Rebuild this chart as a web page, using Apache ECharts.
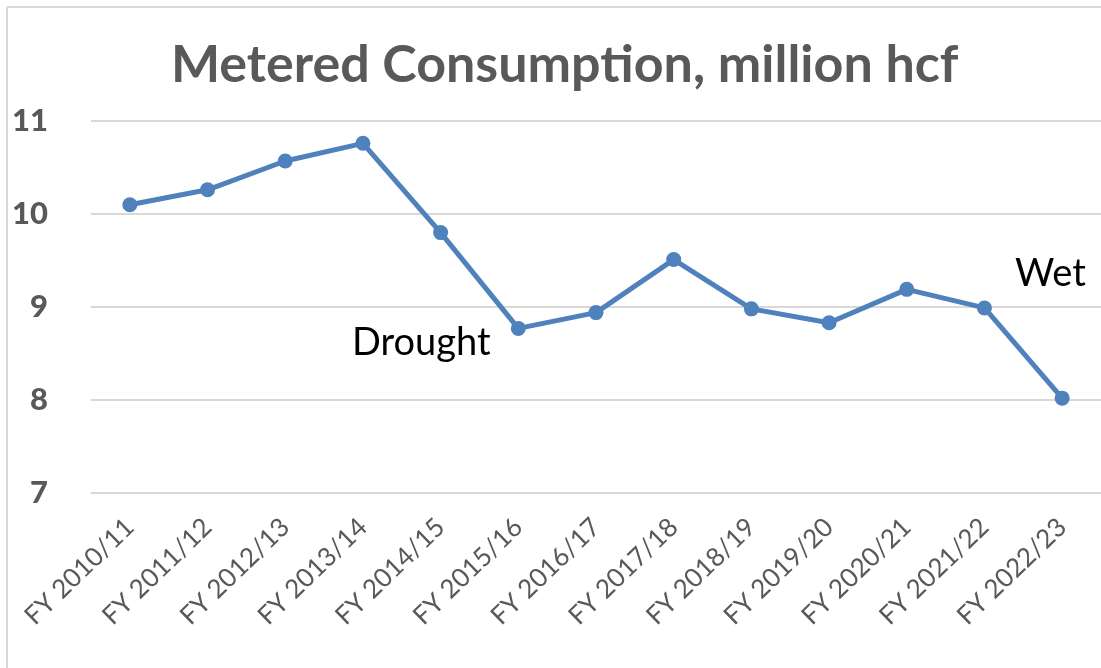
<!DOCTYPE html>
<html>
<head>
<meta charset="utf-8">
<script src="https://cdn.jsdelivr.net/npm/echarts@6/dist/echarts.min.js"></script>
<style>
  html, body { margin: 0; padding: 0; background: #fff; }
  #chart { width: 1101px; height: 668px; }
</style>
</head>
<body>
<div id="chart"></div>
<script>
var years = ['FY 2010/11', 'FY 2011/12', 'FY 2012/13', 'FY 2013/14', 'FY 2014/15', 'FY 2015/16',
    'FY 2016/17', 'FY 2017/18', 'FY 2018/19', 'FY 2019/20', 'FY 2020/21', 'FY 2021/22', 'FY 2022/23'];
var consumo = [10.10, 10.26, 10.57, 10.76, 9.80, 8.77, 8.94, 9.51, 8.98, 8.83, 9.19, 8.99, 8.02];
var yTicks = [7, 8, 9, 10, 11];

var chart = echarts.init(document.getElementById('chart'));

var option = {
    animation: false,
    title: {
        text: 'Metered Consumption, million hcf',
        left: 166,
        top: 34,
        textStyle: { fontFamily: 'Lato', fontWeight: 'bold', fontSize: 52, color: '#595959' }
    },
    grid: { left: 91, top: 121, width: 1014, height: 372 },
    xAxis: {
        type: 'category',
        data: years,
        boundaryGap: true,
        axisLine: { show: false },
        axisTick: { show: false },
        axisLabel: { rotate: 44, margin: 30, fontFamily: 'Lato', fontSize: 26, color: '#595959' }
    },
    yAxis: {
        type: 'value',
        min: yTicks[0],
        max: yTicks[yTicks.length - 1],
        interval: 1,
        axisLine: { show: false },
        axisTick: { show: false },
        splitLine: { lineStyle: { color: '#d9d9d9', width: 2 } },
        axisLabel: { margin: 43, fontFamily: 'Lato', fontWeight: 900, fontSize: 31, color: '#595959' }
    },
    series: [{
        type: 'line',
        data: consumo,
        symbol: 'circle',
        symbolSize: 15,
        lineStyle: { color: '#4f81bd', width: 5 },
        itemStyle: { color: '#4f81bd' }
    }],
    graphic: [
        { type: 'line', shape: { x1: 7, y1: 7, x2: 7, y2: 668 }, style: { stroke: '#d9d9d9', lineWidth: 2 } },
        { type: 'line', shape: { x1: 7, y1: 7, x2: 1101, y2: 7 }, style: { stroke: '#d9d9d9', lineWidth: 2 } },
        { type: 'text', left: 352, top: 324, style: { text: 'Drought', font: '38px Lato', fill: '#000' } },
        { type: 'text', left: 1015, top: 255, style: { text: 'Wet', font: '38px Lato', fill: '#000' } }
    ]
};

chart.setOption(option);
</script>
</body>
</html>
